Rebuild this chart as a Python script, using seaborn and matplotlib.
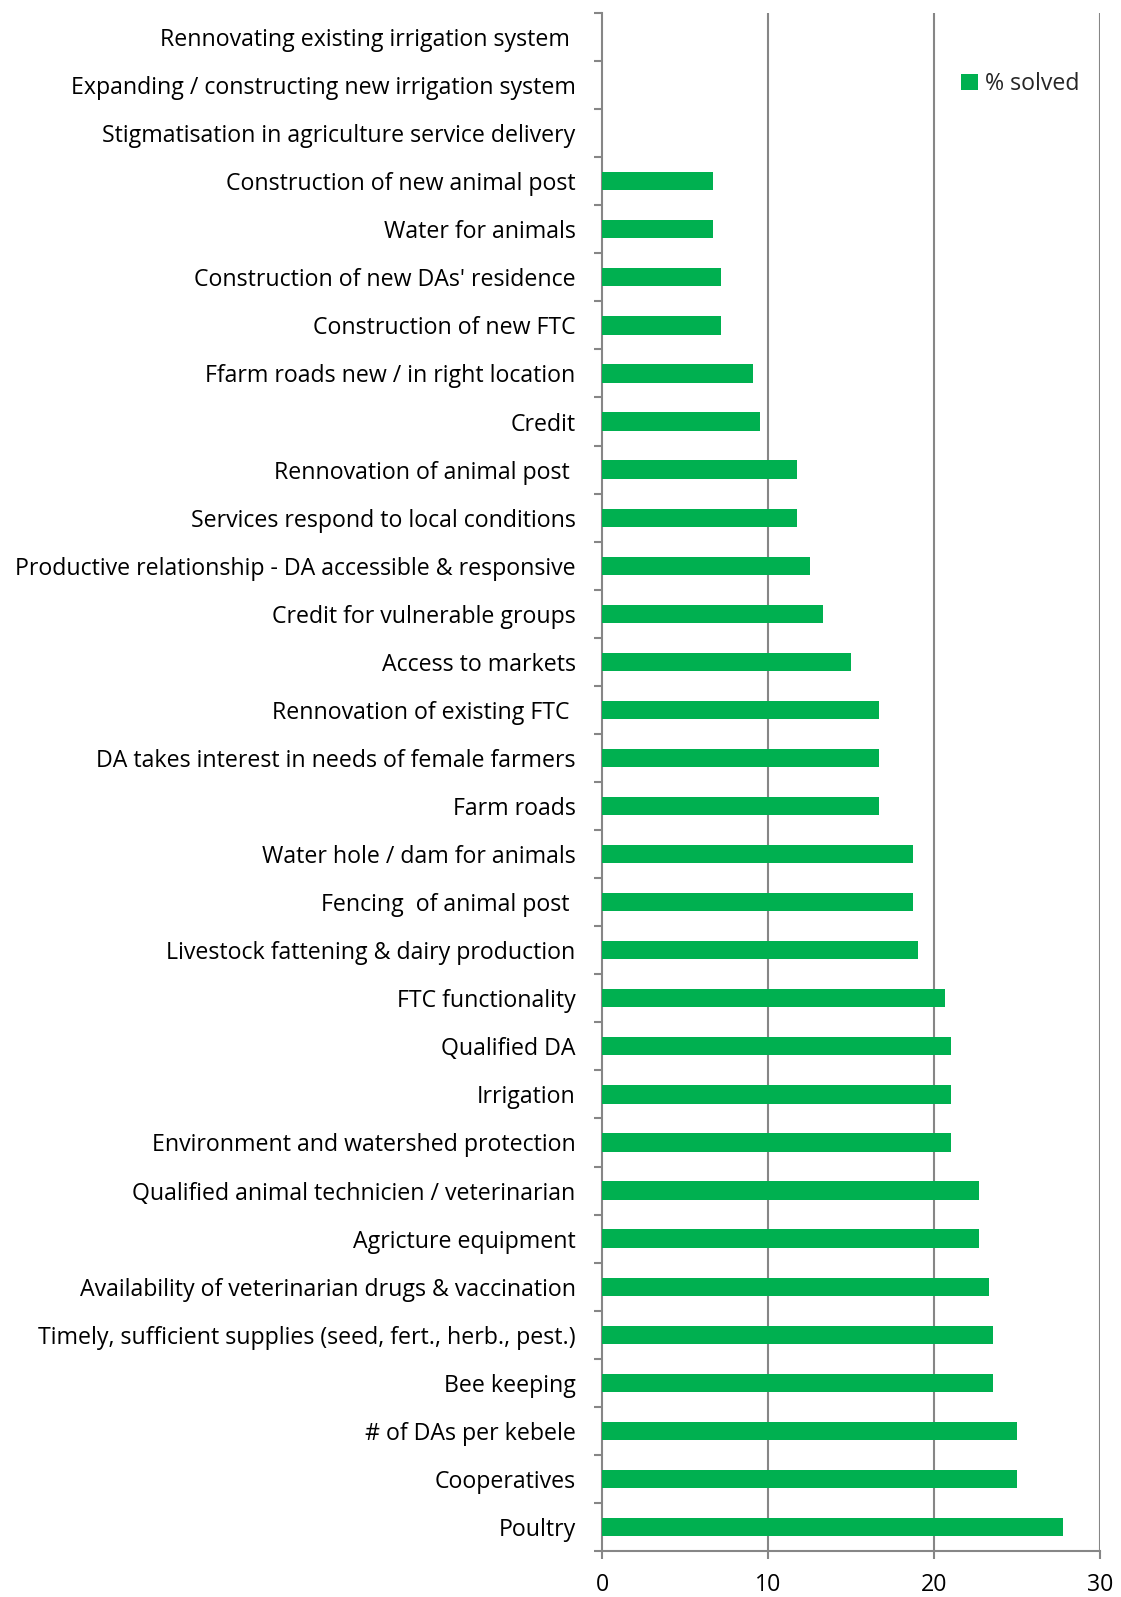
import matplotlib
matplotlib.use("Agg")
import matplotlib.pyplot as plt
import seaborn as sns
import pandas as pd
import numpy as np
from matplotlib.ticker import FixedLocator
from matplotlib.patches import Patch

categories = [
    "Rennovating existing irrigation system ",
    "Expanding / constructing new irrigation system",
    "Stigmatisation in agriculture service delivery",
    "Construction of new animal post",
    "Water for animals",
    "Construction of new DAs' residence",
    "Construction of new FTC",
    "Ffarm roads new / in right location",
    "Credit",
    "Rennovation of animal post ",
    "Services respond to local conditions",
    "Productive relationship - DA accessible & responsive",
    "Credit for vulnerable groups",
    "Access to markets",
    "Rennovation of existing FTC ",
    "DA takes interest in needs of female farmers",
    "Farm roads",
    "Water hole / dam for animals",
    "Fencing  of animal post ",
    "Livestock fattening & dairy production",
    "FTC functionality",
    "Qualified DA",
    "Irrigation",
    "Environment and watershed protection",
    "Qualified animal technicien / veterinarian",
    "Agricture equipment",
    "Availability of veterinarian drugs & vaccination",
    "Timely, sufficient supplies (seed, fert., herb., pest.)",
    "Bee keeping",
    "# of DAs per kebele",
    "Cooperatives",
    "Poultry",
]
solved = [
    0, 0, 0, 6.67, 6.67, 7.14, 7.14, 9.09, 9.52, 11.76, 11.76, 12.5, 13.33,
    15.0, 16.67, 16.67, 16.67, 18.75, 18.75, 19.05, 20.69, 21.05, 21.05,
    21.05, 22.73, 22.73, 23.33, 23.53, 23.53, 25.0, 25.0, 27.78,
]
x_ticks = [0, 10, 20, 30]
series_name = "% solved"

df = pd.DataFrame({"category": categories, "value": solved})

sns.set_theme(style="white")
plt.rcParams["font.family"] = ["Open Sans", "DejaVu Sans"]

W, H = 1121, 1597
fig = plt.figure(figsize=(W / 100, H / 100), dpi=100)
ax = fig.add_axes([602 / W, 1 - 1551 / H, (1100 - 602) / W, (1551 - 13) / H])

green = "#00B050"
grey = "#868686"
sns.barplot(data=df, y="category", x="value", orient="h", color=green,
            width=0.38, saturation=1, linewidth=0,
            ax=ax, zorder=3)

n = len(categories)
ax.set_xlim(0, 30)
ax.set_ylim(n - 0.5, -0.5)
ax.set_xticks(x_ticks)
ax.set_xticklabels([str(t) for t in x_ticks])
ax.set_xlabel("")
ax.set_ylabel("")

for t in x_ticks[1:]:
    ax.axvline(t, color=grey, lw=1.5, zorder=1)

for s in ["top", "right"]:
    ax.spines[s].set_visible(False)
for s in ["left", "bottom"]:
    ax.spines[s].set_color(grey)
    ax.spines[s].set_linewidth(1.5)

ax.yaxis.set_minor_locator(FixedLocator(np.arange(-0.5, n, 1.0)))
ax.tick_params(axis="y", which="major", length=0, pad=19, labelsize=16.7,
               labelcolor="black")
ax.tick_params(axis="y", which="minor", left=True, length=6, width=1.5,
               color=grey)
ax.tick_params(axis="x", which="major", bottom=True, length=6, width=1.5,
               color=grey, pad=10, labelsize=16.7, labelcolor="black")

handle = Patch(facecolor=green, edgecolor="none")
ax.legend([handle], [series_name], loc="upper right",
          bbox_to_anchor=(1.0, 0.975), frameon=False, fontsize=16.7,
          handlelength=0.7, handleheight=0.7, handletextpad=0.3)

fig.savefig("out.png", dpi=100)
